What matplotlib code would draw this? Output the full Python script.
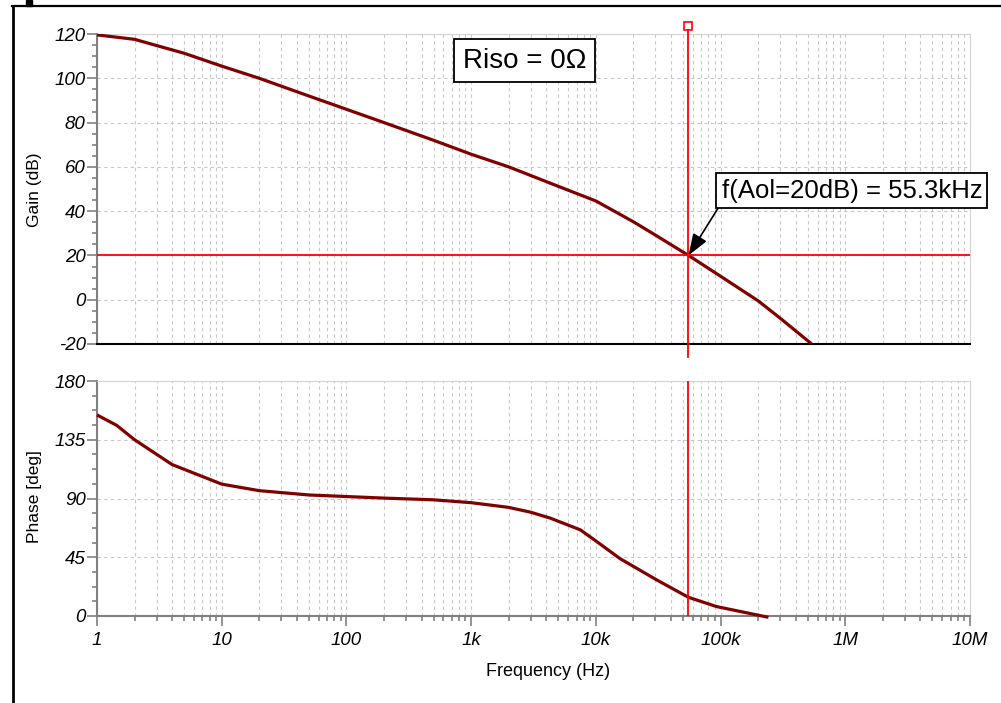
import matplotlib
matplotlib.use("Agg")
import matplotlib.pyplot as plt
from matplotlib.lines import Line2D
from matplotlib.patches import Rectangle
from matplotlib.ticker import FixedLocator, MultipleLocator, LogLocator, NullFormatter
import matplotlib.transforms as mtransforms

plt.rcParams['font.family'] = ['Liberation Sans', 'DejaVu Sans']

# open-loop gain
freq_gain = [1, 2, 3, 5, 10, 20, 50, 100, 200, 500, 1e3, 2e3, 5e3, 1e4, 2e4, 3e4,
             5.53e4, 1e5, 2e5, 3e5, 5.38e5]
gain_db = [119.6, 117.6, 114.8, 111.3, 105.5, 100, 92, 86, 80, 72, 65.7, 60, 51.2,
           44.6, 35.2, 29.2, 20, 10.6, -0.5, -8.3, -20]

# phase
freq_phase = [1, 1.44, 2, 4, 10, 20, 50, 200, 500, 1e3, 2e3, 3e3, 4.3e3, 7.5e3, 1e4,
              1.56e4, 2e4, 3.08e4, 5.53e4, 9.3e4, 2.42e5]
phase_deg = [154, 146, 135, 116, 101, 96, 92.7, 90.3, 89, 86.8, 83.2, 79.5, 75, 66, 57.5,
             44, 38, 27.6, 14.3, 7.2, -1]

f_cursor = 55.3e3
gain_cursor = 20
x_ticks = [1, 10, 100, 1e3, 1e4, 1e5, 1e6, 1e7]
x_labels = ["1", "10", "100", "1k", "10k", "100k", "1M", "10M"]
gain_ticks = [-20, 0, 20, 40, 60, 80, 100, 120]
phase_ticks = [0, 45, 90, 135, 180]

W, H = 1001, 703
curve_col = '#800000'
grid_col = '#c8c8c8'
spine_col = '#808080'
light_col = '#d4d4d4'

fig = plt.figure(figsize=(W / 100, H / 100), dpi=100)
ax_g = fig.add_axes([97 / W, 1 - 344 / H, 873 / W, 310 / H])
ax_p = fig.add_axes([97 / W, 1 - 616 / H, 873 / W, 235 / H])


def style_axis(ax, yticks, minor_step, ylim):
    ax.set_xscale('log')
    ax.set_xlim(1, 1e7)
    ax.set_ylim(*ylim)
    ax.xaxis.set_major_locator(FixedLocator(x_ticks))
    ax.xaxis.set_minor_locator(LogLocator(base=10, subs=range(2, 10), numticks=20))
    ax.xaxis.set_minor_formatter(NullFormatter())
    ax.yaxis.set_major_locator(FixedLocator(yticks))
    ax.yaxis.set_minor_locator(MultipleLocator(minor_step))
    ax.set_yticklabels([str(t) for t in yticks], fontsize=13.5, style='italic')
    ax.grid(which='major', axis='both', color=grid_col, linestyle=(0, (3, 3)), linewidth=0.8)
    ax.grid(which='minor', axis='x', color=grid_col, linestyle=(0, (3, 3)), linewidth=0.8)
    ax.tick_params(axis='y', which='major', length=7.2, width=1.2, color=spine_col, pad=1)
    ax.tick_params(axis='y', which='minor', length=3.6, width=1.2, color=spine_col)
    ax.spines['left'].set_color(spine_col)
    ax.spines['left'].set_linewidth(1.5)
    ax.spines['top'].set_color(light_col)
    ax.spines['right'].set_color(light_col)
    ax.set_axisbelow(True)


style_axis(ax_g, gain_ticks, 5, (-20, 120))
style_axis(ax_p, phase_ticks, 11.25, (0, 180))

ax_g.tick_params(axis='x', which='both', bottom=False, labelbottom=False)
ax_g.spines['bottom'].set_color('black')
ax_g.spines['bottom'].set_linewidth(1.5)

ax_p.set_xticklabels(x_labels, fontsize=13.5, style='italic')
ax_p.tick_params(axis='x', which='major', length=7.2, width=1.2, color=spine_col, pad=4)
ax_p.tick_params(axis='x', which='minor', length=3.6, width=1.2, color=spine_col)
ax_p.spines['bottom'].set_color(spine_col)
ax_p.spines['bottom'].set_linewidth(1.5)

# curves
ax_g.plot(freq_gain, gain_db, color=curve_col, lw=2.3, solid_capstyle='butt', zorder=3)
ax_p.plot(freq_phase, phase_deg, color=curve_col, lw=2.3, solid_capstyle='butt',
          clip_on=False, zorder=3)

# cursor lines
ax_g.axhline(gain_cursor, color='red', lw=1.3, zorder=4)
tg = mtransforms.blended_transform_factory(ax_g.transData, ax_g.transAxes)
ax_g.plot([f_cursor, f_cursor], [-0.042, 1.013], transform=tg, color='red', lw=1.3,
          clip_on=False, zorder=4)
ax_g.plot([f_cursor], [1.026], transform=tg, marker='s', ms=6, mfc='none', mec='red',
          mew=1.2, clip_on=False, zorder=5)
ax_p.axvline(f_cursor, color='red', lw=1.3, zorder=4)

# annotation
ax_g.annotate("f(Aol=20dB) = 55.3kHz", xy=(f_cursor, gain_cursor),
              xytext=(1.13e6, 49.3), ha='center', va='center', fontsize=18.5,
              bbox=dict(boxstyle='square,pad=0.2', fc='white', ec='black', lw=1.3),
              arrowprops=dict(arrowstyle='-|>,head_length=1.1,head_width=0.4',
                              color='black', lw=1.2, relpos=(0, 0),
                              shrinkA=0, shrinkB=0, mutation_scale=12),
              annotation_clip=False, zorder=6)

fig.text(524.5 / W, 1 - 60.5 / H, "Riso = 0Ω", ha='center', va='center', fontsize=20,
         bbox=dict(boxstyle='square,pad=0.3', fc='white', ec='black', lw=1.3))

# axis titles
fig.text(35 / W, 1 - 190 / H, "Gain (dB)", rotation=90, ha='center', va='center',
         fontsize=12.5)
fig.text(35 / W, 1 - 497 / H, "Phase [deg]", rotation=90, ha='center', va='center',
         fontsize=12.5)
fig.text(548 / W, 1 - 672 / H, "Frequency (Hz)", ha='center', va='center', fontsize=13)

# outer frame of the screenshot
fig.add_artist(Line2D([12.5 / W, 12.5 / W], [0, 1 - 6 / H], transform=fig.transFigure,
                      color='black', lw=2))
fig.add_artist(Line2D([12 / W, 1], [1 - 6 / H, 1 - 6 / H], transform=fig.transFigure,
                      color='black', lw=1.6))
fig.add_artist(Rectangle((26 / W, 1 - 6 / H), 6 / W, 6 / H, transform=fig.transFigure,
                         color='black'))

fig.savefig("out.png", dpi=100)
